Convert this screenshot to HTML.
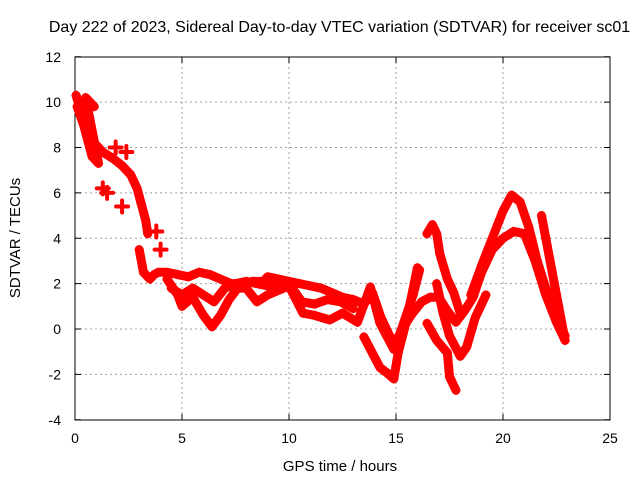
<!DOCTYPE html>
<html><head><meta charset="utf-8"><style>
body{margin:0;background:#fff}
svg{display:block;font-family:"Liberation Sans",sans-serif}
</style></head><body>
<svg width="640" height="480">
<rect width="640" height="480" fill="#fff"/>
<text x="339.5" y="32" font-size="16" text-anchor="middle">Day 222 of 2023, Sidereal Day-to-day VTEC variation (SDTVAR) for receiver sc01</text>
<g id="grid"></g>
<g id="axes"></g>
<g id="data" fill="none" stroke="#f00" stroke-linejoin="round" stroke-linecap="round"></g>
<text x="340" y="471" font-size="15" text-anchor="middle">GPS time / hours</text>
<text transform="translate(20,238) rotate(-90)" font-size="15" text-anchor="middle">SDTVAR / TECUs</text>
</svg>
<script>
const xTicks=[0,5,10,15,20,25];
const yTicks=[-4,-2,0,2,4,6,8,10,12];
const s1h=[0.05,0.3,0.6,0.9,1.3,1.8,2.2,2.6,2.9,3.1,3.3,3.4];
const s1v=[10.3,9.5,8.8,8.2,7.8,7.5,7.2,6.8,6.2,5.5,4.8,4.2];
const s2h=[0.1,0.4,0.6,0.8,1.1,0.5,0.9];
const s2v=[9.8,9,8.3,7.6,7.3,10.2,9.8];
const s3h=[3.0,3.2,3.5,3.7,3.9,4.3,4.8,5.3,5.8,6.3,6.8,7.3,7.8,8.3,8.8,9.0,9.5,10,10.5,11,11.5,12,12.5,13,13.5,13.9,14.3,14.7,15,15.3,15.7,16.2,16.6,17,17.4,17.8,18.2,18.6,19,19.5,20,20.5,21,21.5,22,22.5,22.9];
const s3v=[3.5,2.5,2.2,2.4,2.5,2.5,2.4,2.3,2.5,2.4,2.2,2.0,2.0,2.1,2.1,2.3,2.2,2.1,2.0,1.9,1.8,1.6,1.4,1.3,1.1,1.6,0.5,-0.3,-0.6,0,0.6,1.2,1.4,1.4,0.8,0.3,0.8,1.4,2.5,3.5,4.0,4.3,4.2,3.0,1.5,0.3,-0.5];
const s4h=[4.3,4.8,5.0,5.5,6.0,6.4,6.8,7.2,7.6,8.0,8.5,9.0,10.0,10.65,11.2,11.9,12.5,13.2,13.8,14.25,14.9,15.3,15.8,16.1];
const s4v=[2.2,1.5,1.0,1.4,0.6,0.1,0.6,1.3,1.8,1.8,1.2,1.5,1.9,0.7,0.6,0.4,0.7,0.3,1.85,0.26,-0.9,0.1,1.5,2.6];
const s5h=[4.5,5.0,5.5,6.0,6.5,7.0,7.5,8.0,9.0,10.0,10.6,11.2,11.8,12.4,13.0];
const s5v=[1.8,1.5,1.8,1.5,1.2,1.8,2.0,2.1,1.9,2.0,1.2,1.1,1.3,1.2,0.9];
const s6h=[13.5,14.25,14.6,14.9,15.1,15.5,16.0];
const s6v=[-0.35,-1.7,-1.95,-2.2,-1.05,0.4,2.7];
const s7h=[16.45,16.7,16.9,17.05,17.4,17.7,18.0];
const s7v=[4.2,4.6,4.2,3.3,2.2,1.6,0.7];
const s8h=[16.45,16.9,17.4,17.5,17.8];
const s8v=[0.25,-0.5,-1.05,-2.1,-2.7];
const s9h=[16.9,17.2,17.5,18.0,18.3,18.7,19.2];
const s9v=[2.0,0.7,-0.3,-1.2,-0.8,0.5,1.5];
const s10h=[18.5,19.0,19.5,20.0,20.4,20.8,21.2,21.6,22.0,22.5,22.9];
const s10v=[1.5,2.8,4.0,5.2,5.9,5.6,4.5,3.0,1.8,0.5,-0.3];
const s11h=[21.8,22.0,22.3,22.6,22.9];
const s11v=[5.0,4.0,2.5,1.0,-0.5];
const s12h=[1.3,1.5,2.2,3.8,4.0,1.9,2.4];
const s12v=[6.2,6.0,5.4,4.3,3.5,8.0,7.8];
const series=[[s1h,s1v],[s2h,s2v],[s3h,s3v],[s4h,s4v],[s5h,s5v],[s6h,s6v],[s7h,s7v],[s8h,s8v],[s9h,s9v],[s10h,s10v],[s11h,s11v]];
const NS='http://www.w3.org/2000/svg';
const X=h=>75+h*(535/25), Y=v=>329-v*(363/16);
function mk(t,a,p){const e=document.createElementNS(NS,t);for(const k in a)e.setAttribute(k,a[k]);p.appendChild(e);return e;}
const g=document.getElementById('grid'),ax=document.getElementById('axes'),d=document.getElementById('data');
xTicks.forEach(t=>{
  if(t>0&&t<25){const l=mk('line',{x1:X(t),x2:X(t),y1:57,y2:420,stroke:'#a0a0a0','stroke-dasharray':'2,3'},g);
  
  }
  mk('line',{x1:X(t),x2:X(t),y1:420,y2:414,stroke:'#000'},ax);
  mk('line',{x1:X(t),x2:X(t),y1:57,y2:63,stroke:'#000'},ax);
  const tx=mk('text',{x:X(t),y:443,'font-size':14,'text-anchor':'middle'},ax);tx.textContent=t;
  
  
});
yTicks.forEach(t=>{
  if(t>-4&&t<12){const l=mk('line',{x1:75,x2:610,y1:Y(t),y2:Y(t),stroke:'#a0a0a0','stroke-dasharray':'2,3'},g);
  
  }
  mk('line',{x1:75,x2:81,y1:Y(t),y2:Y(t),stroke:'#000'},ax);
  mk('line',{x1:604,x2:610,y1:Y(t),y2:Y(t),stroke:'#000'},ax);
  const tx=mk('text',{x:61,y:Y(t)+5,'font-size':14,'text-anchor':'end'},ax);tx.textContent=t;
  
  
});
const fr=mk('rect',{x:75,y:57,width:535,height:363,fill:'none',stroke:'#000'},ax);


series.forEach(([hs,vs])=>{
  const pl=mk('polyline',{points:hs.map((h,i)=>X(h)+','+Y(vs[i])).join(' '),'stroke-width':9},d);
  
  
  hs.forEach((h,i)=>{const x=X(h),y=Y(vs[i]);
    const m=mk('path',{d:`M${x-4},${y}H${x+4}M${x},${y-4}V${y+4}`,'stroke-width':1.5},d);
    
    });
});
s12h.forEach((h,i)=>{const x=X(h),y=Y(s12v[i]);
  const m=mk('path',{d:`M${x-6},${y}H${x+6}M${x},${y-6}V${y+6}`,'stroke-width':4},d);
  
  });
</script>
</body></html>
